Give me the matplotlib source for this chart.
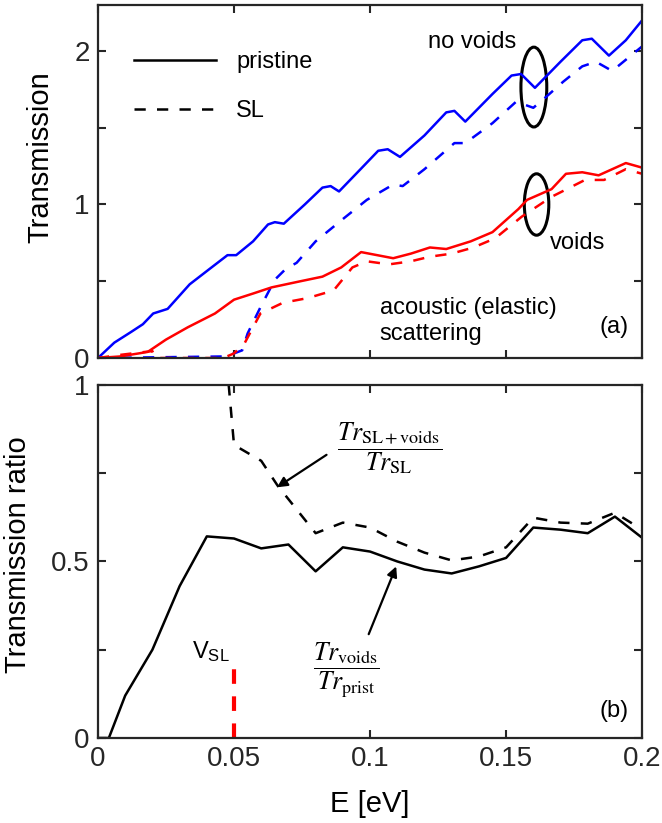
import matplotlib
matplotlib.use("Agg")
import matplotlib.pyplot as plt
from matplotlib.lines import Line2D
from matplotlib.patches import Ellipse

plt.rcParams['font.family'] = ['Liberation Sans', 'DejaVu Sans']
plt.rcParams['mathtext.fontset'] = 'custom'
plt.rcParams['mathtext.rm'] = 'Liberation Sans'
plt.rcParams['mathtext.it'] = 'Liberation Sans:italic'
plt.rcParams['lines.solid_joinstyle'] = 'round'
plt.rcParams['lines.dash_joinstyle'] = 'round'

# (a) transmission vs energy
E_prist = [0, 0.006, 0.0122, 0.0165, 0.0203, 0.0256, 0.0337, 0.041, 0.0476, 0.0508,
           0.057, 0.0625, 0.065, 0.0683, 0.076, 0.0825, 0.0855, 0.0886, 0.0965, 0.103,
           0.1065, 0.111, 0.12, 0.128, 0.131, 0.135, 0.145, 0.152, 0.1555, 0.1606,
           0.17, 0.178, 0.1815, 0.1878, 0.194, 0.2]
T_prist = [0, 0.10, 0.17, 0.22, 0.29, 0.32, 0.48, 0.58, 0.67, 0.67,
           0.76, 0.87, 0.885, 0.875, 1.00, 1.11, 1.12, 1.085, 1.23, 1.35,
           1.36, 1.31, 1.45, 1.60, 1.61, 1.54, 1.72, 1.84, 1.85, 1.76,
           1.93, 2.07, 2.08, 1.97, 2.07, 2.20]

E_sl = [0, 0.046, 0.05, 0.053, 0.055, 0.0597, 0.065, 0.069, 0.073, 0.08, 0.0907,
        0.0988, 0.1085, 0.112, 0.12, 0.131, 0.135, 0.145, 0.1537, 0.16, 0.164,
        0.171, 0.178, 0.183, 0.189, 0.2]
T_sl = [0, 0.01, 0.03, 0.05, 0.16, 0.33, 0.51, 0.58, 0.62, 0.76, 0.915,
        1.03, 1.13, 1.12, 1.23, 1.40, 1.40, 1.53, 1.67, 1.63, 1.69,
        1.80, 1.90, 1.93, 1.87, 2.03]

E_voids = [0, 0.008, 0.015, 0.0183, 0.025, 0.033, 0.043, 0.05, 0.057, 0.0638,
           0.0744, 0.0825, 0.0894, 0.0967, 0.1085, 0.115, 0.122, 0.128, 0.137,
           0.145, 0.1545, 0.1577, 0.1667, 0.172, 0.178, 0.184, 0.194, 0.2]
T_voids = [0, 0.01, 0.03, 0.04, 0.12, 0.20, 0.29, 0.38, 0.42, 0.46,
           0.50, 0.53, 0.59, 0.69, 0.65, 0.68, 0.72, 0.71, 0.76,
           0.82, 0.97, 1.03, 1.10, 1.20, 1.21, 1.19, 1.27, 1.24]

E_sl_voids = [0, 0.008, 0.015, 0.02, 0.021, 0.046, 0.05, 0.054, 0.0597, 0.068,
              0.077, 0.0866, 0.0935, 0.0988, 0.107, 0.115, 0.122, 0.13, 0.138,
              0.146, 0.1557, 0.1667, 0.179, 0.186, 0.194, 0.2]
T_sl_voids = [0, 0.02, 0.035, 0.045, 0.0, 0.0, 0.03, 0.10, 0.29, 0.36,
              0.39, 0.44, 0.59, 0.63, 0.61, 0.63, 0.66, 0.68, 0.72,
              0.78, 0.92, 1.05, 1.16, 1.16, 1.23, 1.20]

# (b) transmission ratios
E_ratio_voids = [0, 0.004, 0.01, 0.02, 0.03, 0.04, 0.05, 0.06, 0.07, 0.08, 0.09,
                 0.1, 0.11, 0.12, 0.13, 0.14, 0.15, 0.16, 0.17, 0.18, 0.19, 0.2]
ratio_voids = [0, 0, 0.12, 0.25, 0.43, 0.571, 0.565, 0.537, 0.548, 0.472, 0.54,
               0.528, 0.50, 0.477, 0.466, 0.486, 0.51, 0.596, 0.59, 0.58, 0.627, 0.567]

E_ratio_sl = [0.04, 0.05, 0.06, 0.066, 0.08, 0.09, 0.1, 0.11, 0.12, 0.13, 0.14,
              0.15, 0.16, 0.17, 0.18, 0.19, 0.2]
ratio_sl = [1.7, 0.83, 0.785, 0.715, 0.58, 0.61, 0.596, 0.556, 0.525, 0.503, 0.514,
            0.54, 0.624, 0.61, 0.607, 0.638, 0.59]

V_SL = 0.05
V_SL_height = 0.23

dash = (0, (4.5, 4.5))
lw = 1.8
fs = 17

fig = plt.figure(figsize=(6.62, 8.23), dpi=100)
ax1 = fig.add_axes([0.148, 0.565, 0.822, 0.429])
ax2 = fig.add_axes([0.148, 0.1033, 0.822, 0.429])

ax1.plot(E_prist, T_prist, color='blue', lw=lw)
ax1.plot(E_sl, T_sl, color='blue', lw=lw, linestyle=dash)
ax1.plot(E_voids, T_voids, color='red', lw=lw)
ax1.plot(E_sl_voids, T_sl_voids, color='red', lw=lw, linestyle=dash)

ax1.add_patch(Ellipse((0.1602, 1.765), 0.0095, 0.52, fill=False, color='black', lw=2.2))
ax1.add_patch(Ellipse((0.1612, 1.0), 0.009, 0.40, fill=False, color='black', lw=2.2))
ax1.text(0.1375, 2.06, 'no voids', fontsize=fs, ha='center', va='center')
ax1.text(0.1662, 0.75, 'voids', fontsize=fs, ha='left', va='center')
ax1.text(0.1036, 0.24, 'acoustic (elastic)\nscattering', fontsize=fs,
         ha='left', va='center', linespacing=1.2)
ax1.text(0.1952, 0.2, '(a)', fontsize=fs, ha='right', va='center')

handles = [Line2D([], [], color='black', lw=lw),
           Line2D([], [], color='black', lw=lw, linestyle=dash)]
ax1.legend(handles, ['pristine', 'SL'], loc='upper left', bbox_to_anchor=(0.028, 0.93),
           frameon=False, fontsize=fs, handlelength=3.45, handletextpad=0.85,
           labelspacing=1.15)

ax1.set_xlim(0, 0.2)
ax1.set_ylim(0, 2.3)
ax1.set_yticks([0, 0.5, 1, 1.5, 2])
ax1.set_yticklabels(['0', '', '1', '', '2'])
ax1.set_xticks([0, 0.05, 0.1, 0.15, 0.2])
ax1.set_xticklabels([])
ax1.set_ylabel('Transmission', fontsize=21, labelpad=14)
ax1.yaxis.label.set_y(0.57)

ax2.plot(E_ratio_voids, ratio_voids, color='black', lw=lw)
ax2.plot(E_ratio_sl, ratio_sl, color='black', lw=lw, linestyle=dash)
ax2.plot([V_SL, V_SL], [0, V_SL_height], color='red', lw=3, linestyle=(0, (3.5, 3)))

ax2.text(0.0415, 0.245, r'V$_{\mathrm{SL}}$', fontsize=fs, ha='center', va='center')
ax2.text(0.1072, 0.82, r'$\dfrac{Tr_{\mathrm{SL+voids}}}{Tr_{\mathrm{SL}}}$',
         fontsize=18.5, ha='center', va='center', math_fontfamily='stix')
ax2.text(0.0914, 0.19, r'$\dfrac{Tr_{\mathrm{voids}}}{Tr_{\mathrm{prist}}}$',
         fontsize=18.5, ha='center', va='center', math_fontfamily='stix')
arrow = dict(arrowstyle='-|>', color='black', lw=1.6, mutation_scale=15, shrinkA=0, shrinkB=0)
ax2.annotate('', xy=(0.0658, 0.71), xytext=(0.084, 0.802), arrowprops=arrow)
ax2.annotate('', xy=(0.1096, 0.486), xytext=(0.0995, 0.294), arrowprops=arrow)
ax2.text(0.1952, 0.076, '(b)', fontsize=fs, ha='right', va='center')

ax2.set_xlim(0, 0.2)
ax2.set_ylim(0, 1)
ax2.set_yticks([0, 0.25, 0.5, 0.75, 1])
ax2.set_yticklabels(['0', '', '0.5', '', '1'])
ax2.set_xticks([0, 0.05, 0.1, 0.15, 0.2])
ax2.set_xticklabels(['0', '0.05', '0.1', '0.15', '0.2'])
ax2.set_ylabel('Transmission ratio', fontsize=21, labelpad=14)
ax2.yaxis.label.set_y(0.52)
ax2.set_xlabel('E [eV]', fontsize=21, labelpad=13)

for ax in (ax1, ax2):
    ax.tick_params(direction='in', length=6, width=1.5, top=True, right=True,
                   labelsize=20, pad=6, colors='#262626')
    for s in ax.spines.values():
        s.set_linewidth(1.6)
        s.set_color('#262626')

fig.savefig('out.png', dpi=100)
